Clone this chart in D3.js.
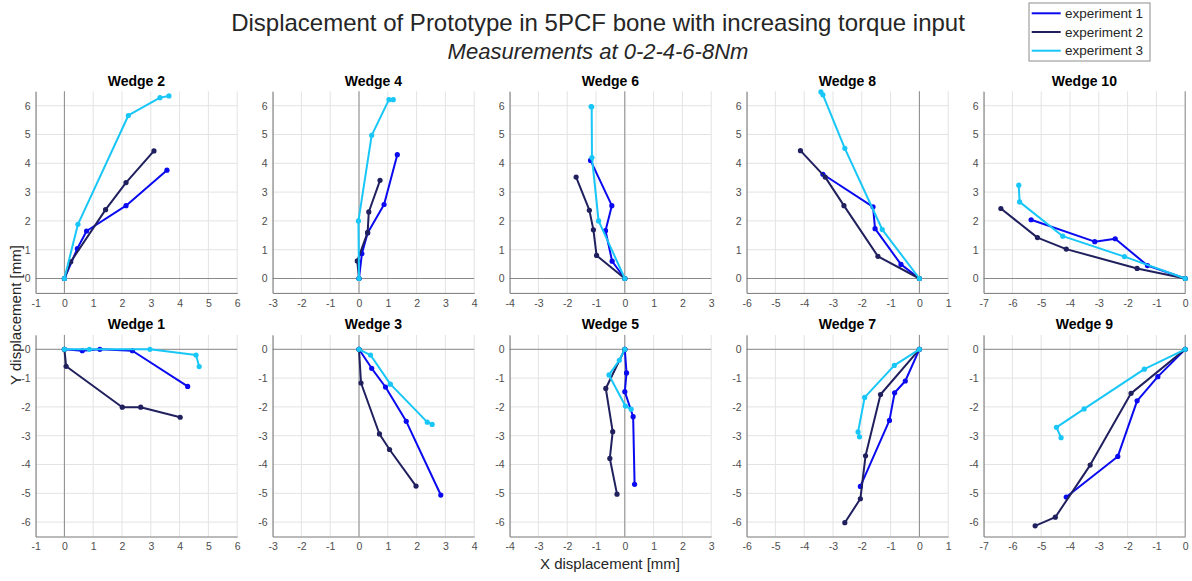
<!DOCTYPE html>
<html>
<head>
<meta charset="utf-8">
<script src="https://cdn.jsdelivr.net/npm/d3@7"></script>
<style>
  body { margin: 0; background: #fff; }
  text { font-family: "Liberation Sans", Arial, sans-serif; }
</style>
</head>
<body>
<div id="figure"></div>
<script>
'use strict';

// series: [x, y] at 0-2-4-6-8 Nm
const series = ['experiment 1', 'experiment 2', 'experiment 3'];
const seriesColors = ['#0a0af0', '#20205e', '#18c6f7'];

// top row wedges (even), bottom row wedges (odd)
const topWedges = ['Wedge 2', 'Wedge 4', 'Wedge 6', 'Wedge 8', 'Wedge 10'];
const bottomWedges = ['Wedge 1', 'Wedge 3', 'Wedge 5', 'Wedge 7', 'Wedge 9'];

const xDomains = [[-1, 6], [-3, 4], [-4, 3], [-6, 1], [-7, 0]];
const yDomainTop = [-0.5, 6.5];
const yDomainBottom = [-6.5, 0.5];

const wedge2 = [
  [[0, 0], [0.45, 1.04], [0.77, 1.65], [2.14, 2.53], [3.56, 3.76]],
  [[0, 0], [0.22, 0.58], [1.43, 2.39], [2.14, 3.33], [3.11, 4.43]],
  [[0, 0], [0.47, 1.88], [2.22, 5.66], [3.32, 6.28], [3.63, 6.34]]
];
const wedge4 = [
  [[0, 0], [0.1, 0.86], [0.3, 1.58], [0.87, 2.57], [1.33, 4.3]],
  [[0, 0], [-0.06, 0.61], [0.3, 1.6], [0.34, 2.31], [0.73, 3.41]],
  [[0, 0], [-0.02, 2.0], [0.44, 4.97], [1.04, 6.21], [1.19, 6.21]]
];
const wedge6 = [
  [[0, 0], [-0.44, 0.6], [-0.67, 1.66], [-0.45, 2.53], [-1.19, 4.1]],
  [[0, 0], [-0.98, 0.8], [-1.09, 1.69], [-1.23, 2.37], [-1.69, 3.52]],
  [[0, 0], [-0.91, 2.0], [-1.14, 4.2], [-1.15, 5.96], [-1.17, 5.97]]
];
const wedge8 = [
  [[0, 0], [-0.64, 0.49], [-1.54, 1.73], [-1.61, 2.49], [-3.35, 3.62]],
  [[0, 0], [-1.44, 0.77], [-2.62, 2.53], [-3.27, 3.52], [-4.13, 4.44]],
  [[0, 0], [-1.29, 1.7], [-2.59, 4.52], [-3.35, 6.38], [-3.42, 6.48]]
];
const wedge10 = [
  [[0, 0], [-1.31, 0.45], [-2.43, 1.38], [-3.14, 1.28], [-5.35, 2.04]],
  [[0, 0], [-1.67, 0.35], [-4.13, 1.02], [-5.13, 1.42], [-6.4, 2.43]],
  [[0, 0], [-2.11, 0.76], [-4.25, 1.47], [-5.75, 2.66], [-5.78, 3.24]]
];
const wedge1 = [
  [[0, 0], [0.62, -0.05], [1.23, 0], [2.36, -0.05], [4.28, -1.29]],
  [[0, 0], [0.06, -0.59], [2.01, -2.01], [2.65, -2.01], [4.02, -2.36]],
  [[0, 0], [0.87, 0], [2.97, 0], [4.57, -0.2], [4.68, -0.6]]
];
const wedge3 = [
  [[0, 0], [0.44, -0.66], [0.92, -1.31], [1.64, -2.5], [2.84, -5.06]],
  [[0, 0], [0.07, -1.17], [0.71, -2.94], [1.06, -3.48], [1.98, -4.75]],
  [[0, 0], [0.4, -0.2], [1.09, -1.21], [2.37, -2.53], [2.54, -2.61]]
];
const wedge5 = [
  [[0, 0], [0.06, -0.82], [0, -1.47], [0.29, -2.34], [0.34, -4.69]],
  [[0, 0], [-0.66, -1.36], [-0.42, -2.86], [-0.52, -3.79], [-0.27, -5.03]],
  [[0, 0], [-0.19, -0.38], [-0.55, -0.89], [0.02, -1.97], [0.22, -2.08]]
];
const wedge7 = [
  [[0, 0], [-0.49, -1.1], [-0.86, -1.51], [-1.04, -2.47], [-2.05, -4.76]],
  [[0, 0], [-1.35, -1.57], [-1.87, -3.7], [-2.05, -5.19], [-2.59, -6.02]],
  [[0, 0], [-0.87, -0.56], [-1.9, -1.67], [-2.13, -2.87], [-2.08, -3.04]]
];
const wedge9 = [
  [[0, 0], [-0.95, -0.95], [-1.67, -1.79], [-2.34, -3.72], [-4.13, -5.13]],
  [[0, 0], [-1.88, -1.53], [-3.3, -4.02], [-4.51, -5.83], [-5.21, -6.13]],
  [[0, 0], [-1.42, -0.69], [-3.51, -2.07], [-4.47, -2.71], [-4.31, -3.07]]
];

const topData = [wedge2, wedge4, wedge6, wedge8, wedge10];
const bottomData = [wedge1, wedge3, wedge5, wedge7, wedge9];

const width = 1192;
const height = 581;
const panelSize = 201.6;
const panelLeft = 35.6;
const panelStep = 237;
const rowTops = [91.3, 334.9];

const svg = d3.select("div#figure")
  .append("svg")
  .attr("width", width)
  .attr("height", height)
  .attr("viewBox", [0, 0, width, height]);

function drawPanel(title, data, xDomain, yDomain, left, top) {
  const x = d3.scaleLinear().domain(xDomain).range([left, left + panelSize]);
  const y = d3.scaleLinear().domain(yDomain).range([top + panelSize, top]);

  const xTicks = d3.range(xDomain[0], xDomain[1] + 1);
  const yTicks = d3.range(Math.ceil(yDomain[0]), Math.floor(yDomain[1]) + 1);

  const g = svg.append("g");

  // grid
  g.append("g")
    .selectAll("line")
    .data(xTicks)
    .join("line")
    .attr("x1", d => x(d)).attr("x2", d => x(d))
    .attr("y1", top).attr("y2", top + panelSize)
    .attr("stroke", "#e3e3e3");
  g.append("g")
    .selectAll("line")
    .data(yTicks)
    .join("line")
    .attr("x1", left).attr("x2", left + panelSize)
    .attr("y1", d => y(d)).attr("y2", d => y(d))
    .attr("stroke", "#e3e3e3");

  // zero lines
  g.append("line")
    .attr("x1", x(0)).attr("x2", x(0))
    .attr("y1", top).attr("y2", top + panelSize)
    .attr("stroke", "#8a8a8a");
  g.append("line")
    .attr("x1", left).attr("x2", left + panelSize)
    .attr("y1", y(0)).attr("y2", y(0))
    .attr("stroke", "#8a8a8a");

  // axes
  const xAxis = g.append("g")
    .attr("transform", `translate(0, ${top + panelSize})`)
    .call(d3.axisBottom(x).tickValues(xTicks).tickSize(0).tickPadding(6.5).tickFormat(d => String(d)));
  const yAxis = g.append("g")
    .attr("transform", `translate(${left}, 0)`)
    .call(d3.axisLeft(y).tickValues(yTicks).tickSize(0).tickPadding(5).tickFormat(d => String(d)));

  [xAxis, yAxis].forEach(a => {
    a.select(".domain").attr("stroke", "#777");
    a.selectAll("text")
      .attr("fill", "#4d4d4d")
      .style("font-size", "10.5px")
      .style("font-family", '"Liberation Sans", Arial, sans-serif');
  });

  const line = d3.line()
    .x(d => x(d[0]))
    .y(d => y(d[1]));

  data.forEach((pts, i) => {
    g.append("path")
      .datum(pts)
      .attr("fill", "none")
      .attr("stroke", seriesColors[i])
      .attr("stroke-width", 2)
      .attr("stroke-linejoin", "round")
      .attr("d", line);

    g.append("g")
      .selectAll("circle")
      .data(pts)
      .join("circle")
      .attr("fill", seriesColors[i])
      .attr("cx", d => x(d[0]))
      .attr("cy", d => y(d[1]))
      .attr("r", 2.6);
  });

  g.append("text")
    .attr("x", left + panelSize / 2)
    .attr("y", top - 5.6)
    .attr("text-anchor", "middle")
    .style("font-size", "14px")
    .style("font-weight", "bold")
    .attr("fill", "#000")
    .text(title);
}

topWedges.forEach((w, i) => {
  drawPanel(w, topData[i], xDomains[i], yDomainTop, panelLeft + panelStep * i, rowTops[0]);
});
bottomWedges.forEach((w, i) => {
  drawPanel(w, bottomData[i], xDomains[i], yDomainBottom, panelLeft + panelStep * i, rowTops[1]);
});

// titles
svg.append("text")
  .attr("x", 598)
  .attr("y", 31)
  .attr("text-anchor", "middle")
  .attr("fill", "#262626")
  .style("font-size", "24px")
  .text("Displacement of Prototype in 5PCF bone with increasing torque input");

svg.append("text")
  .attr("x", 598)
  .attr("y", 59)
  .attr("text-anchor", "middle")
  .attr("fill", "#262626")
  .style("font-size", "22px")
  .style("font-style", "italic")
  .text("Measurements at 0-2-4-6-8Nm");

svg.append("text")
  .attr("x", 610)
  .attr("y", 569)
  .attr("text-anchor", "middle")
  .attr("fill", "#262626")
  .style("font-size", "15px")
  .text("X displacement [mm]");

svg.append("text")
  .attr("transform", "translate(21, 315) rotate(-90)")
  .attr("text-anchor", "middle")
  .attr("fill", "#262626")
  .style("font-size", "15px")
  .text("Y displacement [mm]");

// legend
const legend = svg.append("g");
legend.append("rect")
  .attr("x", 1029).attr("y", 3)
  .attr("width", 121).attr("height", 58)
  .attr("fill", "#fff")
  .attr("stroke", "#8c8c8c");

series.forEach((s, i) => {
  const ly = 13.3 + 18.7 * i;
  legend.append("line")
    .attr("x1", 1031.7).attr("x2", 1060.7)
    .attr("y1", ly).attr("y2", ly)
    .attr("stroke", seriesColors[i])
    .attr("stroke-width", 2);
  legend.append("text")
    .attr("x", 1065)
    .attr("y", ly)
    .attr("dy", "0.35em")
    .attr("fill", "#262626")
    .style("font-size", "13.5px")
    .text(s);
});
</script>
</body>
</html>
